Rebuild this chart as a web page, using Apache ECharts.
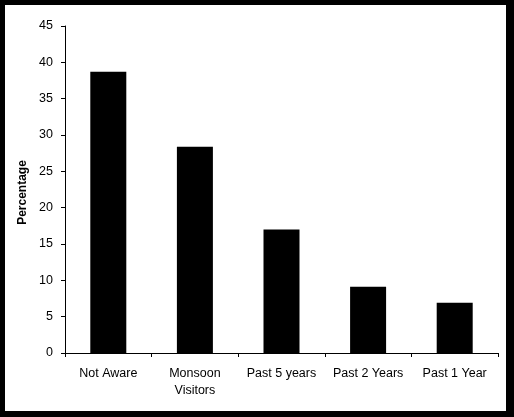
<!DOCTYPE html>
<html>
<head>
<meta charset="utf-8">
<script src="https://cdn.jsdelivr.net/npm/echarts@6/dist/echarts.min.js"></script>
<style>
  html, body { margin: 0; padding: 0; background: #000; }
  #chart { position: absolute; left: 5px; top: 5px; width: 501px; height: 406px; background: #fff; }
</style>
</head>
<body>
<div id="chart"></div>
<script>
// values
const categories = ['Not Aware', 'Monsoon\nVisitors', 'Past 5 years', 'Past 2 Years', 'Past 1 Year'];
const percentages = [38.7, 28.4, 17.0, 9.1, 6.9];
const yTicks = { min: 0, max: 45, interval: 5 };

const font = 'Liberation Sans, Arial, sans-serif';
let chart = echarts.init(document.getElementById('chart'));

chart.setOption({
    animation: false,
    backgroundColor: '#fff',
    grid: { left: 60, top: 21, width: 433, height: 327, containLabel: false },
    xAxis: {
        type: 'category',
        data: categories,
        axisLine: { lineStyle: { color: '#000', width: 1 } },
        axisTick: { show: true, length: 4, inside: false, lineStyle: { color: '#000' } },
        axisLabel: { color: '#000', fontFamily: font, fontSize: 12.5, lineHeight: 17, margin: 12, interval: 0 },
        splitLine: { show: false }
    },
    yAxis: {
        type: 'value',
        min: yTicks.min,
        max: yTicks.max,
        interval: yTicks.interval,
        name: 'Percentage',
        nameLocation: 'middle',
        nameGap: 35,
        nameTextStyle: { color: '#000', fontFamily: font, fontSize: 12, fontWeight: 'bold', padding: [0, 6, 0, 0] },
        axisLine: { show: true, lineStyle: { color: '#000', width: 1 } },
        axisTick: { show: true, length: 4, lineStyle: { color: '#000' } },
        axisLabel: { color: '#000', fontFamily: font, fontSize: 12.5, margin: 12 },
        splitLine: { show: false }
    },
    series: [{
        type: 'bar',
        data: percentages,
        barWidth: 36,
        itemStyle: { color: '#000' }
    }]
});
</script>
</body>
</html>
